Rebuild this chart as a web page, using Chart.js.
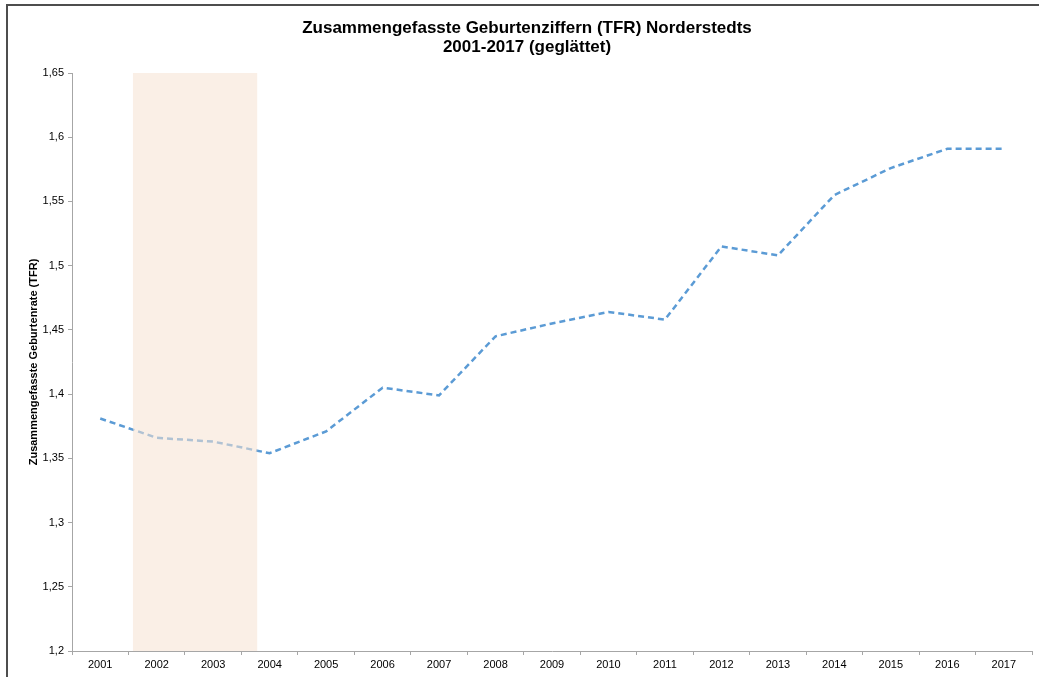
<!DOCTYPE html>
<html>
<head>
<meta charset="utf-8">
<script src="https://cdn.jsdelivr.net/npm/chart.js@4.4.0/dist/chart.umd.min.js"></script>
<style>
  body { margin: 0; background: #fff; overflow: hidden; }
  #wrap { position: relative; width: 1039px; height: 677px; }
  #rahmen { position: absolute; left: 6px; top: 4px; width: 1100px; height: 800px;
            border-left: 2px solid #4d4d4d; border-top: 2px solid #4d4d4d; }
  canvas { position: absolute; left: 0; top: 0; }
</style>
</head>
<body>
<div id="wrap">
  <div id="rahmen"></div>
  <canvas id="tfr"></canvas>
</div>
<script>
//Daten der Grafik
const jahre = ['2001', '2002', '2003', '2004', '2005', '2006', '2007', '2008', '2009',
  '2010', '2011', '2012', '2013', '2014', '2015', '2016', '2017'];
const tfrWerte = [1.381, 1.366, 1.363, 1.354, 1.371, 1.405, 1.399, 1.445, 1.455,
  1.464, 1.458, 1.515, 1.508, 1.555, 1.576, 1.591, 1.591];
const titelZeilen = ['Zusammengefasste Geburtenziffern (TFR) Norderstedts', '2001-2017 (geglättet)'];
// markierter Bereich (Position auf der Kategorienachse, 0 = 2001)
const markierung = [0.58, 2.78];
const yMin = 1.2;
const yMax = 1.65;
const ySchritt = 0.05;
//Daten der Grafik

// Bereich wird halbtransparent ueber die Linie gelegt
const bereichPlugin = {
  id: 'bereich',
  afterDatasetsDraw(chart) {
    const ctx = chart.ctx;
    const x = chart.scales.x;
    const area = chart.chartArea;
    const x1 = x.getPixelForValue(markierung[0]);
    const x2 = x.getPixelForValue(markierung[1]);
    ctx.save();
    ctx.fillStyle = 'rgba(246, 226, 210, 0.55)';
    ctx.fillRect(x1, area.top, x2 - x1, area.bottom - area.top);
    ctx.restore();
  }
};

// Titel etwas rechts der Mitte, wie im Original
const titelPlugin = {
  id: 'titel',
  afterDraw(chart) {
    const ctx = chart.ctx;
    ctx.save();
    ctx.fillStyle = '#000';
    ctx.font = 'bold 17px "Liberation Sans"';
    ctx.textAlign = 'center';
    ctx.textBaseline = 'middle';
    titelZeilen.forEach((z, i) => ctx.fillText(z, 527, 28 + i * 19));
    ctx.restore();
  }
};

function komma(v) {
  return Number(v.toFixed(2)).toString().replace('.', ',');
}

const ctx = document.getElementById('tfr').getContext('2d');
new Chart(ctx, {
  type: 'line',
  data: {
    labels: jahre,
    datasets: [{
      data: tfrWerte,
      borderColor: '#5b9bd5',
      borderWidth: 2.5,
      borderDash: [6, 4],
      pointRadius: 0,
      fill: false,
      tension: 0
    }]
  },
  options: {
    responsive: true,
    maintainAspectRatio: false,
    animation: false,
    layout: { padding: { left: 0, right: 7, top: 73, bottom: 0 } },
    plugins: {
      legend: { display: false },
      tooltip: { enabled: false },
      title: { display: false }
    },
    scales: {
      x: {
        offset: true,
        grid: { display: true, drawOnChartArea: false, offset: true, tickLength: 4, color: '#a6a6a6' },
        border: { color: '#a6a6a6', width: 1 },
        ticks: { color: '#000', font: { family: 'Liberation Sans', size: 11 }, padding: 3, maxRotation: 0 },
        afterFit(scale) { scale.height = 26; }
      },
      y: {
        min: yMin,
        max: yMax,
        grid: { display: true, drawOnChartArea: false, tickLength: 4, color: '#a6a6a6' },
        border: { color: '#a6a6a6', width: 1 },
        ticks: {
          stepSize: ySchritt,
          color: '#000',
          padding: 4,
          font: { family: 'Liberation Sans', size: 11 },
          callback: (v) => komma(v)
        },
        title: {
          display: true,
          text: 'Zusammengefasste Geburtenrate (TFR)',
          color: '#000',
          font: { family: 'Liberation Sans', size: 11, weight: 'bold' },
          padding: { top: 27, bottom: 0 }
        },
        afterFit(scale) { scale.width = 72; }
      }
    }
  },
  plugins: [bereichPlugin, titelPlugin]
});
</script>
</body>
</html>
